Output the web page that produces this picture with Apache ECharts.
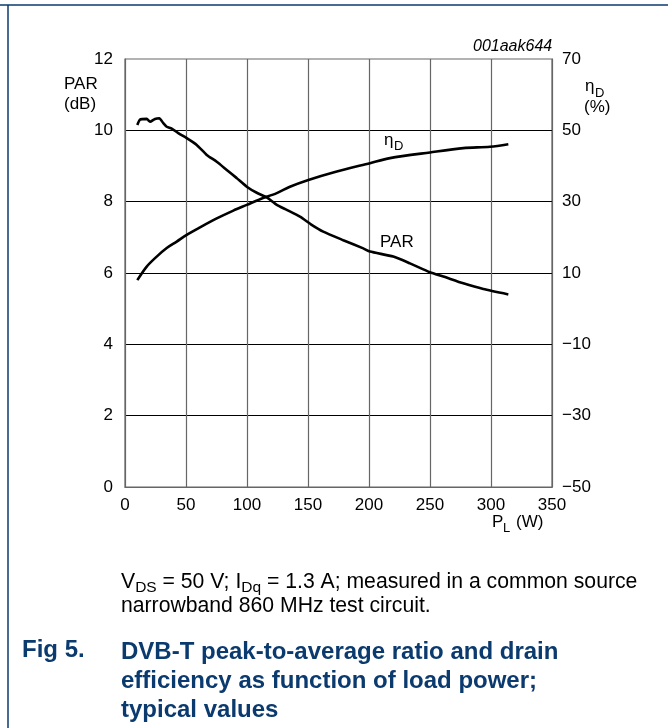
<!DOCTYPE html>
<html>
<head>
<meta charset="utf-8">
<script src="https://cdn.jsdelivr.net/npm/echarts@6/dist/echarts.min.js"></script>
<style>
html,body{margin:0;padding:0;background:#fff;}
#c{width:668px;height:728px;}
</style>
</head>
<body>
<div id="c"></div>
<script>
// Load power PL (W) and PAR (dB)
const parX = [10.1, 12.3, 17.8, 20.5, 24.6, 28.1, 31.4, 34.2, 38.3, 43.7, 50.6, 58.8, 67, 75.2, 83.4, 91.6, 99.8, 108, 116.2, 124.4, 132.6, 143.4, 153, 162.5, 178.9, 195.3, 200.8, 219.9, 233.6, 250, 260.9, 277.3, 293.7, 314.2];
const parY = [10.15, 10.3, 10.32, 10.24, 10.32, 10.34, 10.2, 10.1, 10.05, 9.92, 9.78, 9.59, 9.31, 9.12, 8.89, 8.66, 8.42, 8.25, 8.12, 7.91, 7.77, 7.58, 7.35, 7.16, 6.92, 6.69, 6.6, 6.46, 6.27, 6.02, 5.9, 5.71, 5.55, 5.4];
// Load power PL (W) and drain efficiency (%)
const etaX = [10.1, 17.8, 26, 34.2, 42.4, 50.6, 61.5, 75.2, 88.8, 99.8, 110.7, 124.4, 135.2, 150.3, 170.7, 200.8, 217.2, 250, 277.3, 299.2, 314.2];
const etaY = [8.0, 11.8, 14.6, 17.0, 18.8, 20.7, 22.8, 25.3, 27.5, 29.1, 30.7, 32.4, 34.2, 36.1, 38.2, 40.8, 42.2, 43.8, 45.0, 45.4, 46.1];
// Axis ranges / ticks
const xTicks = {min: 0, max: 350, interval: 50};
const parTicks = {min: 0, max: 12, interval: 2};
const etaTicks = {min: -50, max: 70, interval: 20};

const BLUE = '#0b3a6e';
const FONT = '"Liberation Sans", Arial, sans-serif';

const chart = echarts.init(document.getElementById('c'), null, {renderer: 'canvas'});

const lbl = {color: '#000', fontSize: 17, fontFamily: FONT};
const opt = {
  animation: false,
  backgroundColor: '#fff',
  grid: {left: 125, right: 116, top: 59, bottom: 241, show: true, borderColor: '#666', borderWidth: 1.2, containLabel: false},
  xAxis: {
    type: 'value', min: xTicks.min, max: xTicks.max, interval: xTicks.interval,
    axisLine: {show: true, lineStyle: {color: '#666', width: 1.2}},
    axisTick: {show: false},
    axisLabel: Object.assign({margin: 10}, lbl),
    splitLine: {show: true, showMinLine: false, showMaxLine: false, lineStyle: {color: '#666', width: 1.2}}
  },
  yAxis: [{
    type: 'value', min: parTicks.min, max: parTicks.max, interval: parTicks.interval,
    axisLine: {show: true, lineStyle: {color: '#666', width: 1.2}},
    axisTick: {show: false},
    axisLabel: Object.assign({margin: 12}, lbl),
    splitLine: {show: true, showMinLine: false, showMaxLine: false, lineStyle: {color: '#000', width: 1.2}}
  }, {
    type: 'value', min: etaTicks.min, max: etaTicks.max, interval: etaTicks.interval,
    position: 'right',
    axisLine: {show: true, lineStyle: {color: '#666', width: 1.2}},
    axisTick: {show: false},
    axisLabel: Object.assign({margin: 10, formatter: v => (v < 0 ? '\u2212' + (-v) : '' + v)}, lbl),
    splitLine: {show: false}
  }],
  series: [{
    name: 'PAR', type: 'line', yAxisIndex: 0, showSymbol: false, smooth: 0.2,
    lineStyle: {color: '#000', width: 2.6},
    data: parX.map((x, i) => [x, parY[i]])
  }, {
    name: 'etaD', type: 'line', yAxisIndex: 1, showSymbol: false, smooth: 0.3,
    lineStyle: {color: '#000', width: 2.6},
    data: etaX.map((x, i) => [x, etaY[i]])
  }],
  graphic: [
    // frame
    {type: 'line', shape: {x1: 0, y1: 5, x2: 668, y2: 5}, style: {stroke: BLUE, lineWidth: 1.5}},
    {type: 'line', shape: {x1: 8, y1: 5, x2: 8, y2: 728}, style: {stroke: BLUE, lineWidth: 1.5}},
    // figure id
    {type: 'text', left: 473, top: 39, style: {text: '001aak644', fill: '#000', font: 'italic 16px ' + FONT}},
    // left axis title
    {type: 'text', left: 64, top: 76, style: {text: 'PAR', fill: '#000', font: '17px ' + FONT}},
    {type: 'text', left: 64, top: 96, style: {text: '(dB)', fill: '#000', font: '17px ' + FONT}},
    // right axis title
    {type: 'text', left: 585, top: 78, style: {text: '\u03b7', fill: '#000', font: '17px ' + FONT}},
    {type: 'text', left: 595, top: 87, style: {text: 'D', fill: '#000', font: '13px ' + FONT}},
    {type: 'text', left: 584, top: 99, style: {text: '(%)', fill: '#000', font: '17px ' + FONT}},
    // curve labels
    {type: 'text', left: 384, top: 132, style: {text: '\u03b7', fill: '#000', font: '17px ' + FONT}},
    {type: 'text', left: 394, top: 140, style: {text: 'D', fill: '#000', font: '13px ' + FONT}},
    {type: 'text', left: 380, top: 234, style: {text: 'PAR', fill: '#000', font: '17px ' + FONT}},
    // x axis title
    {type: 'text', left: 492, top: 514, style: {text: 'P', fill: '#000', font: '17px ' + FONT}},
    {type: 'text', left: 503, top: 522, style: {text: 'L', fill: '#000', font: '13px ' + FONT}},
    {type: 'text', left: 516, top: 514, style: {text: '(W)', fill: '#000', font: '17px ' + FONT}},
    // caption
    {type: 'text', left: 121, top: 569, style: {
      text: '{n|V}{s|DS}{n| = 50 V; I}{s|Dq}{n| = 1.3 A; measured in a common source}',
      rich: {
        n: {fontSize: 21.2, fontFamily: FONT, fill: '#000', lineHeight: 25},
        s: {fontSize: 15.5, fontFamily: FONT, fill: '#000', lineHeight: 25, padding: [11, 0, 0, 0]}
      }
    }},
    {type: 'text', left: 121, top: 596, style: {text: 'narrowband 860 MHz test circuit.', fill: '#000', font: '21.2px ' + FONT}},
    // figure title
    {type: 'text', left: 22, top: 638, style: {text: 'Fig 5.', fill: BLUE, font: 'bold 24px ' + FONT}},
    {type: 'text', left: 121, top: 638, style: {text: 'DVB-T peak-to-average ratio and drain\nefficiency as function of load power;\ntypical values', fill: BLUE, font: 'bold 24px ' + FONT, lineHeight: 29}}
  ]
};
chart.setOption(opt);
</script>
</body>
</html>
